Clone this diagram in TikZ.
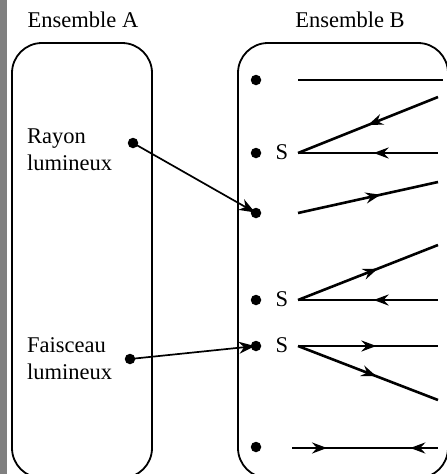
\documentclass[tikz,border=0pt]{standalone}
\usepackage{fontspec}
\setmainfont{Liberation Serif}
\usetikzlibrary{arrows.meta,decorations.markings}
\definecolor{sidebar}{RGB}{128,128,128}
\begin{document}
\begin{tikzpicture}[x=1pt,y=-1pt,
  lbl/.style={font=\fontsize{22.5}{27}\selectfont, inner sep=0pt},
  setbox/.style={draw=black, line width=1.8pt, rounded corners=30pt},
  dot/.style={circle, fill=black, inner sep=0pt, minimum size=10.5pt},
  ray/.style={line width=2.6pt},
  conn/.style={line width=1.7pt, -{Stealth[length=16pt,width=12pt,inset=5pt]}, shorten >=1pt},
  fwd/.style={postaction={decorate, decoration={markings, mark=at position #1 with {\arrow{Stealth[length=15pt,width=11pt,inset=5pt]}}}}},
  bwd/.style={postaction={decorate, decoration={markings, mark=at position #1 with {\arrowreversed{Stealth[length=15pt,width=11pt,inset=5pt]}}}}}
]
\useasboundingbox (0,0) rectangle (447,474);
\clip (0,0) rectangle (447,474);
\fill[sidebar] (0,0) rectangle (7,474);

% sets
\draw[setbox] (12,43) rectangle (152,478);
\draw[setbox] (238,43) rectangle (448,478);
\node[lbl, anchor=base] (tA) at (83,27) {Ensemble A};
\node[lbl, anchor=base] (tB) at (350,27) {Ensemble B};

% set A elements
\node[lbl, anchor=base west] (rayon) at (27,143) {Rayon};
\node[lbl, anchor=base west] (rayon2) at (27,170) {lumineux};
\node[lbl, anchor=base west] (fais) at (27,352) {Faisceau};
\node[lbl, anchor=base west] (fais2) at (27,379) {lumineux};
\node[dot] (dA1) at (133,143) {};
\node[dot] (dA2) at (130,359) {};

% set B elements
\node[dot] (b1) at (256,80) {};
\node[dot] (b2) at (256,153) {};
\node[dot] (b3) at (256,213) {};
\node[dot] (b4) at (256,300) {};
\node[dot] (b5) at (256,346) {};
\node[dot] (b6) at (256,447) {};
\node[lbl, anchor=base] (s2) at (282,159) {S};
\node[lbl, anchor=base] (s4) at (282,306) {S};
\node[lbl, anchor=base] (s5) at (282,352) {S};

% rays
\coordinate (p1) at (298,80);  \coordinate (q1) at (443,80);
\draw[ray] (p1) -- (q1);

\coordinate (p2) at (298,153); \coordinate (q2a) at (438,97); \coordinate (q2b) at (438,153);
\draw[ray, bwd=0.5] (p2) -- (q2a);
\draw[ray, bwd=0.54] (p2) -- (q2b);

\coordinate (p3) at (298,213); \coordinate (q3) at (438,182);
\draw[ray, fwd=0.59] (p3) -- (q3);

\coordinate (p4) at (298,300); \coordinate (q4a) at (438,245); \coordinate (q4b) at (438,300);
\draw[ray, fwd=0.57] (p4) -- (q4a);
\draw[ray, bwd=0.54] (p4) -- (q4b);

\coordinate (p5) at (298,346); \coordinate (q5a) at (438,346); \coordinate (q5b) at (438,400);
\draw[ray, fwd=0.56] (p5) -- (q5a);
\draw[ray, fwd=0.56] (p5) -- (q5b);

\coordinate (p6) at (292,448); \coordinate (q6) at (438,448);
\draw[ray, fwd=0.24, bwd=0.81] (p6) -- (q6);

% connectors
\draw[conn] (dA1.center) -- (b3.center);
\draw[conn] (dA2.center) -- (b5.center);
\end{tikzpicture}
\end{document}
